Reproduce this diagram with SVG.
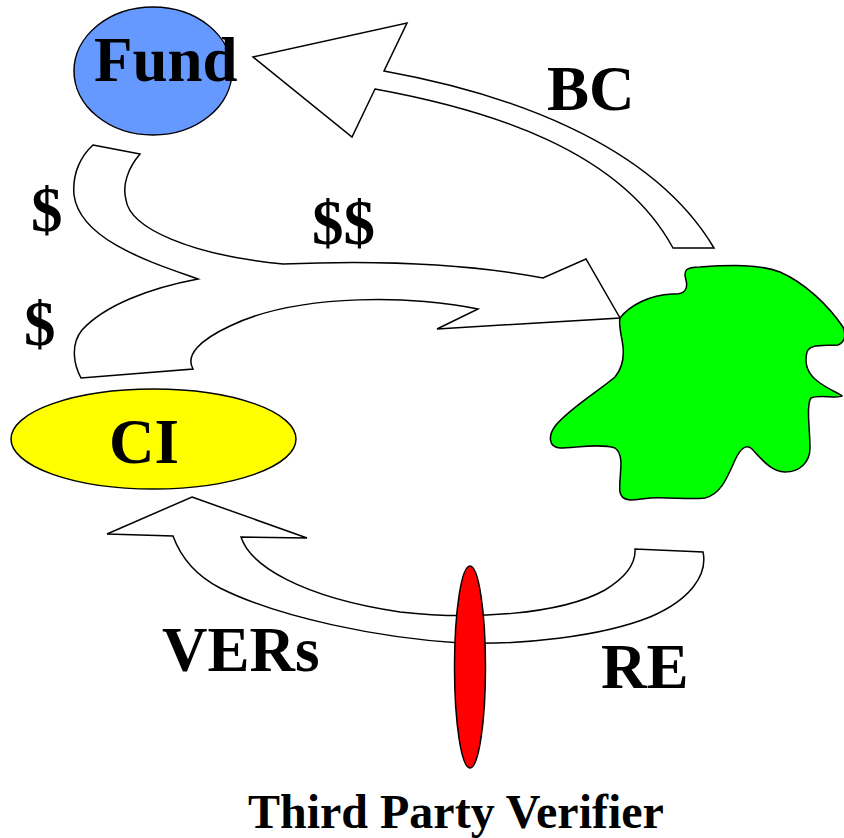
<svg xmlns="http://www.w3.org/2000/svg" width="844" height="838" viewBox="0 0 844 838">
  <style>
    .arrow { fill: #ffffff; stroke: #000000; stroke-width: 1.5; stroke-linejoin: miter; }
    .node { stroke: #000000; stroke-width: 1.5; }
    .label { font-family: "Liberation Serif", "Times New Roman", serif; font-weight: bold; fill: #000000; }
    .big { font-size: 63px; }
    .small { font-size: 48px; }
  </style>
  <rect width="844" height="838" fill="#ffffff"/>

  <!-- block arrows -->
  <g id="connectors">
    <!-- BC: project back to the fund -->
    <path id="arrow-bc" class="arrow" d="M253,57 L407,23 L384,71 C500,92 650,140 714,248 L673,248 C620,150 490,110 375,89 L352,137 Z"/>
    <!-- $ from fund and $ from CI merging into $$ towards the project -->
    <path id="arrow-money" class="arrow" d="M93,145 L140,154 C128,168 122,185 126,200 C130,228 190,255 283,264 C380,260 470,264 543,278 L586,259 L620,318 L437,329 L478,309 C420,296 300,292 230,326 C200,340 185,355 193,369 L81,378 C74,365 70,345 82,330 C105,305 150,288 198,279 C150,262 80,240 74,195 C72,172 82,155 93,145 Z"/>
    <!-- RE / VERs: project through the verifier to CI -->
    <path id="arrow-vers" class="arrow" d="M192,497 L307,538 L241,537 C250,565 300,597 400,612 C470,620 560,615 605,590 C625,578 636,565 635,549 L703,552 C708,575 690,600 650,617 C600,637 520,645 460,643 C380,638 280,618 220,588 C195,575 180,555 173,536 L107,534 Z"/>
    <text class="label big" x="547" y="110">BC</text>
    <text class="label big" x="31" y="231">$</text>
    <text class="label big" x="24" y="345">$</text>
    <text class="label big" x="312" y="244">$$</text>
    <text class="label big" x="162" y="671">VERs</text>
    <text class="label big" x="601" y="688">RE</text>
  </g>

  <g id="fund">
    <ellipse class="node" cx="153" cy="71" rx="79" ry="64" fill="#6699ff"/>
    <text class="label big" x="94" y="81">Fund</text>
  </g>

  <g id="ci">
    <ellipse class="node" cx="153.5" cy="439" rx="142.5" ry="50" fill="#ffff00"/>
    <text class="label big" x="109" y="463">CI</text>
  </g>

  <g id="project">
    <path class="node" fill="#00ff00" d="M620,318 C630,305 650,295 672,294 C686,295 688,288 686,280 C683,270 686,267 700,267 C730,265 760,264 780,272 C805,283 828,305 843,327 C846,335 845,342 838,345 C820,346 810,344 807,352 C804,364 808,375 820,383 C830,390 840,394 842,396 C838,399 818,394 811,398 C806,405 810,430 810,448 C810,462 800,472 785,472 C772,472 762,460 752,449 C746,443 740,450 736,458 C728,475 722,494 705,498 C690,500 670,497 650,498 C635,500 622,503 620,492 C618,478 626,456 615,448 C600,443 575,448 560,448 C548,447 548,435 556,425 C570,408 600,390 615,377 C625,365 624,350 622,340 C620,330 619,322 620,318 Z"/>
  </g>

  <g id="verifier">
    <ellipse class="node" cx="470" cy="667" rx="15.5" ry="101" fill="#ff0000"/>
    <text class="label small" x="248" y="828">Third Party Verifier</text>
  </g>
</svg>
